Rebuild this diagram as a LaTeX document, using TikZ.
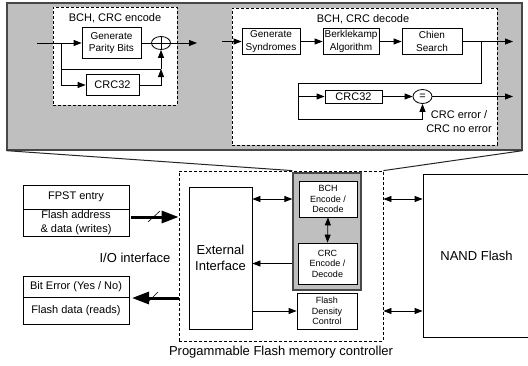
\documentclass[tikz,border=0pt]{standalone}
\usepackage{fontspec}
\setmainfont{Liberation Sans}
\usetikzlibrary{arrows.meta,shapes.geometric}

\tikzset{
  ln/.style={line width=0.8pt},
  arr/.style={ln,-{Triangle[length=8pt,width=6pt]}},
  darr/.style={ln,{Triangle[length=8pt,width=6pt]}-{Triangle[length=8pt,width=6pt]}},
  bus/.style={line width=3pt,-{Triangle[length=17pt,width=12pt]}},
  sz/.style 2 args={minimum width=#1pt,minimum height=#2pt},
  box/.style={draw,ln,fill=white,inner sep=0.5pt,align=center},
  dbox/.style={draw,ln,dash pattern=on 3pt off 2pt},
  graybox/.style={draw=black!72,line width=1.3pt,fill=gray!50},
  fbig/.style={font=\fontsize{13}{16.5}\selectfont},
  fmid/.style={font=\fontsize{11}{13.5}\selectfont},
  fsm/.style={font=\fontsize{10}{12.5}\selectfont},
  ftiny/.style={font=\fontsize{9}{10.5}\selectfont},
}

\begin{document}
\begin{tikzpicture}[x=1pt,y=-1pt]
\clip (0,0) rectangle (528,365);

% ---------- detail panel: BCH / CRC coding paths ----------
\node[graybox,sz={515}{147}] (top) at (264.5,76.5) {};

% encoder
\node[dbox,fill=white,sz={124}{98}] (enc) at (115,56) {};
\node[fmid] (enct) at (115,18) {BCH, CRC encode};
\node[box,fsm,sz={59}{31}] (pgb) at (111.5,43) {Generate\\Parity Bits};
\node[box,fmid,sz={53}{21}] (ecrc) at (112.5,85) {CRC32};
\node[draw,ln,ellipse,fill=white,minimum width=19pt,minimum height=13pt,inner sep=0pt] (xor) at (161,43) {};
\draw[ln] (xor.north) -- (xor.south) (xor.west) -- (xor.east);

\coordinate (ein) at (37,43);
\coordinate (eb) at (61,43);
\coordinate (ej) at (161,69);
\coordinate (eout) at (197,43);
\draw[arr] (ein) -- (pgb.west);
\draw[ln] (eb) |- (ej);
\draw[arr] (eb) |- (ecrc.west);
\draw[arr] (ecrc.east) -| (ej);
\draw[arr] (ej) -- (xor.south);
\draw[ln] (pgb.east) -- (xor.west);
\draw[arr] (xor.east) -- (eout);

% decoder
\node[dbox,fill=white,sz={265}{137}] (dec) at (364.5,76.5) {};
\node[fmid] (dect) at (363,19) {BCH, CRC decode};
\node[box,fsm,sz={58}{26}] (gs) at (271,41.5) {Generate\\Syndromes};
\node[box,fsm,sz={56}{26}] (bk) at (351,41.5) {Berklekamp\\Algorithm};
\node[box,fsm,sz={60}{26}] (cs) at (432,41.5) {Chien\\Search};
\node[box,fmid,sz={57}{13}] (dcrc) at (353.5,96.5) {CRC32};
\node[draw,ln,ellipse,fill=white,minimum width=19pt,minimum height=14pt,inner sep=0pt,fmid] (eq) at (422.5,96.5) {=};
\node[fmid,align=center] (errl) at (459,121.5) {CRC error /\\CRC no error};

\coordinate (din) at (222,41.5);
\coordinate (dout) at (513,41.5);
\coordinate (db) at (481,41.5);
\coordinate (dlt) at (298,83);
\coordinate (dlb) at (298,119);
\coordinate (dout2) at (513,96.5);
\draw[arr] (din) -- (gs.west);
\draw[arr] (gs.east) -- (bk.west);
\draw[arr] (bk.east) -- (cs.west);
\draw[arr] (cs.east) -- (dout);
\draw[arr] (db) |- (dlt) -- (dlb) -| (eq.south);
\draw[arr] (dlt |- dcrc) -- (dcrc.west);
\draw[arr] (dcrc.east) -- (eq.west);
\draw[arr] (eq.east) -- (dout2);

% ---------- system view ----------
\node[dbox,sz={204}{170}] (ctrl) at (281,256) {};
\node[fbig] (ctrllab) at (281,352) {Progammable Flash memory controller};

\node[box,fmid,sz={106}{24}] (fpst) at (76,197) {FPST entry};
\node[box,fmid,sz={106}{27}] (fad) at (76,222.5) {Flash address\\\& data (writes)};
\node[box,fmid,sz={106}{21}] (ber) at (76,286.5) {Bit Error (Yes / No)};
\node[box,fmid,sz={106}{27}] (fdr) at (76,310.5) {Flash data (reads)};
\node[fbig] (iol) at (135,258) {I/O interface};

\node[box,fbig,sz={63}{142}] (ext) at (220.5,258) {External\\Interface};
\node[graybox,sz={68}{117}] (ecc) at (327,231.5) {};
\node[box,ftiny,sz={58}{36}] (bch) at (328,199) {BCH\\Encode /\\Decode};
\node[box,ftiny,sz={59}{41}] (crc) at (327.5,263.5) {CRC\\Encode /\\Decode};
\node[box,ftiny,sz={60}{36}] (fdc) at (327,311) {Flash\\Density\\Control};
\node[box,fbig,sz={107}{163}] (nand) at (476.5,255.5) {NAND Flash};

% zoom lines from the detail panel down to the ECC block
\draw[line width=1pt,black!85] (top.south west) -- (ecc.north west |- ctrl.north);
\draw[line width=1pt,black!85] (top.south east) -- (ctrl.north east);

% buses to and from the host side
\coordinate (wst) at (131,217);
\coordinate (wen) at (ctrl.west |- wst);
\draw[bus] (wst) -- (wen);
\draw[line width=0.6pt] (148,222) -- (160,211);
\coordinate (rst) at (179,298);
\coordinate (ren) at (132,298);
\draw[bus] (rst) -- (ren);
\draw[line width=0.6pt] (147,303) -- (158,292);

% internal connections
\draw[darr] (ext.east |- bch) -- (ecc.west |- bch);
\draw[arr] (ecc.west |- crc) -- (ext.east |- crc);
\draw[arr] (ext.east |- fdc) -- (fdc.west);
\draw[darr] (bch.south) -- (crc.north);
\draw[darr] (ctrl.east |- bch) -- (nand.west |- bch);
\draw[darr] (ctrl.east |- fdc) -- (nand.west |- fdc);
\end{tikzpicture}
\end{document}
